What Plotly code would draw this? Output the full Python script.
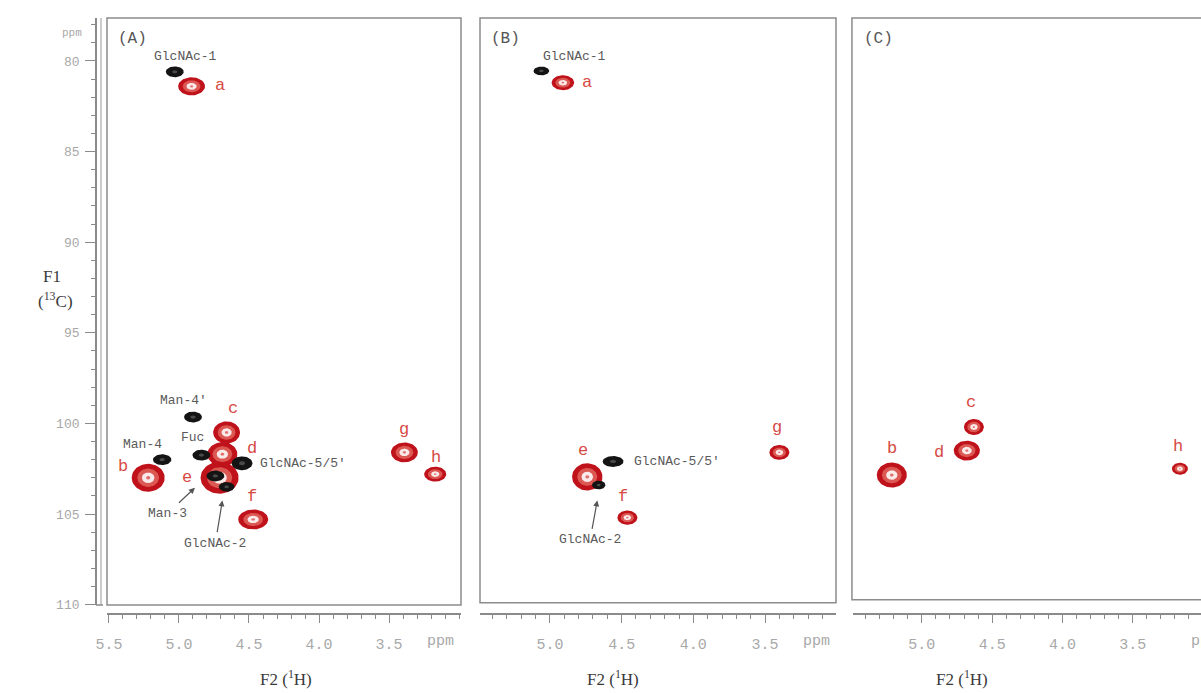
import numpy as np
import plotly.graph_objects as go

W, H = 1201, 693

# ---------------- data (chemical shifts, ppm) ----------------
# Panel A (red = spectrum 1, black = reference spectrum)
a_red_lbl = ["a", "b", "c", "d", "e", "f", "g", "h"]
a_red_h = [4.91, 5.22, 4.66, 4.69, 4.71, 4.47, 3.39, 3.17]
a_red_c = [81.4, 103.0, 100.5, 101.7, 103.0, 105.3, 101.6, 102.8]
a_red_wh = [0.096, 0.118, 0.096, 0.107, 0.136, 0.107, 0.096, 0.079]
a_red_wc = [0.50, 0.77, 0.61, 0.66, 0.88, 0.55, 0.55, 0.41]

a_blk_lbl = ["GlcNAc-1", "Man-4'", "Fuc", "GlcNAc-5/5'", "Man-4", "Man-3", "GlcNAc-2"]
a_blk_h = [5.03, 4.90, 4.84, 4.55, 5.12, 4.74, 4.66]
a_blk_c = [80.6, 99.65, 101.75, 102.2, 102.0, 102.9, 103.5]
a_blk_wh = [0.064, 0.064, 0.064, 0.075, 0.066, 0.064, 0.056]
a_blk_wc = [0.30, 0.30, 0.30, 0.38, 0.30, 0.30, 0.27]

# Panel B
b_red_lbl = ["a", "e", "f", "g"]
b_red_h = [4.91, 4.74, 4.46, 3.40]
b_red_c = [81.2, 102.95, 105.2, 101.6]
b_red_wh = [0.079, 0.106, 0.070, 0.070]
b_red_wc = [0.41, 0.75, 0.39, 0.41]

b_blk_lbl = ["GlcNAc-1", "GlcNAc-5/5'", "GlcNAc-2"]
b_blk_h = [5.06, 4.56, 4.66]
b_blk_c = [80.55, 102.1, 103.4]
b_blk_wh = [0.055, 0.073, 0.047]
b_blk_wc = [0.24, 0.30, 0.24]

# Panel C
c_red_lbl = ["b", "c", "d", "h"]
c_red_h = [5.214, 4.63, 4.68, 3.164]
c_red_c = [102.85, 100.2, 101.5, 102.5]
c_red_wh = [0.107, 0.071, 0.093, 0.057]
c_red_wc = [0.69, 0.44, 0.55, 0.33]

x_ticks_A = [5.5, 5.0, 4.5, 4.0, 3.5]
x_ticks_BC = [5.0, 4.5, 4.0, 3.5]
y_ticks = [80, 85, 90, 95, 100, 105, 110]

# ---------------- helpers ----------------
def px_x(p):
    return p / W

def px_y(p):
    return 1 - p / H

T = np.linspace(0, 2 * np.pi, 60)

def ellipses(hs, cs, whs, wcs, scale):
    xs, ys = [], []
    for h, c, wh, wc in zip(hs, cs, whs, wcs):
        xs += list(h + scale * wh * np.cos(T)) + [None]
        ys += list(c + scale * wc * np.sin(T)) + [None]
    return xs, ys

RED_LAYERS = [(1.0, "#bf121b"), (0.66, "#dc5853"), (0.38, "#fbeaea"), (0.13, "#e07070")]
BLK_LAYERS = [(1.0, "#141414"), (0.3, "#4a4a4a")]

fig = go.Figure()

def add_peaks(xa, hs, cs, whs, wcs, layers, name):
    for s, col in layers:
        xs, ys = ellipses(hs, cs, whs, wcs, s)
        fig.add_trace(go.Scatter(x=xs, y=ys, xaxis=xa, yaxis="y", mode="lines",
                                 fill="toself", fillcolor=col, line=dict(width=0, color=col),
                                 hoverinfo="skip", showlegend=False, name=name))

add_peaks("x", a_red_h, a_red_c, a_red_wh, a_red_wc, RED_LAYERS, "A red")
add_peaks("x", a_blk_h, a_blk_c, a_blk_wh, a_blk_wc, BLK_LAYERS, "A black")
add_peaks("x2", b_red_h, b_red_c, b_red_wh, b_red_wc, RED_LAYERS, "B red")
add_peaks("x2", b_blk_h, b_blk_c, b_blk_wh, b_blk_wc, BLK_LAYERS, "B black")
add_peaks("x3", c_red_h, c_red_c, c_red_wh, c_red_wc, RED_LAYERS, "C red")

# ---------------- axes ----------------
AX_COL = "#8a8a8a"
TICK_FONT = dict(family="Liberation Mono", size=15, color="#a8a8a8")

def xaxis(dom, rng, ticks):
    return dict(domain=dom, range=rng, anchor="free", position=px_y(614),
                showline=True, linecolor=AX_COL, linewidth=1.5,
                tickmode="array", tickvals=ticks, ticktext=[f"{t:.1f}" for t in ticks],
                ticks="outside", ticklen=8, tickcolor=AX_COL, tickwidth=1.4,
                ticklabelstandoff=8, tickfont=TICK_FONT,
                minor=dict(tickmode="linear", tick0=0, dtick=0.1, ticks="outside",
                           ticklen=4, tickcolor=AX_COL, tickwidth=1),
                showgrid=False, zeroline=False, fixedrange=True)

fig.update_layout(
    width=W, height=H, margin=dict(l=0, r=0, t=0, b=0, pad=0, autoexpand=False),
    paper_bgcolor="white", plot_bgcolor="rgba(0,0,0,0)",
    xaxis=xaxis([px_x(107), px_x(461)], [5.514, 2.986], x_ticks_A),
    xaxis2=xaxis([px_x(480), px_x(836)], [5.488, 3.005], x_ticks_BC),
    xaxis3=xaxis([px_x(853), 1.0], [5.49, 3.014], x_ticks_BC),
    yaxis=dict(domain=[px_y(605), px_y(18)], range=[110.02, 77.63],
               anchor="free", position=px_x(96), side="left",
               showline=True, linecolor=AX_COL, linewidth=1.8,
               tickmode="array", tickvals=y_ticks, ticktext=[str(t) for t in y_ticks],
               ticks="outside", ticklen=10, tickcolor=AX_COL, tickwidth=1.3,
               ticklabelstandoff=3, tickfont=dict(family="Liberation Mono", size=13, color="#a8a8a8"),
               minor=dict(tickmode="linear", tick0=0, dtick=1, ticks="outside",
                          ticklen=4, tickcolor=AX_COL, tickwidth=1),
               showgrid=False, zeroline=False, fixedrange=True),
)

# panel frames
FRAME = dict(color="#8c8c8c", width=1.5)
fig.add_shape(type="rect", xref="x domain", yref="y domain", x0=0, x1=1, y0=0, y1=1,
              line=FRAME, layer="below")
fig.add_shape(type="rect", xref="x2 domain", yref="y domain", x0=0, x1=1, y0=0.004, y1=1,
              line=FRAME, layer="below")
fig.add_shape(type="rect", xref="x3 domain", yref="y domain", x0=-0.003, x1=1.05, y0=0.009, y1=1,
              line=FRAME, layer="below")
# second (inner) y-axis rule and bottom hook
fig.add_shape(type="line", xref="paper", yref="paper", x0=px_x(101), x1=px_x(101),
              y0=px_y(605), y1=px_y(18), line=dict(color="#a8a8a8", width=1.2))
fig.add_shape(type="line", xref="paper", yref="paper", x0=px_x(96), x1=px_x(103),
              y0=px_y(605), y1=px_y(605), line=dict(color=AX_COL, width=1.5))

# ---------------- text ----------------
RED_FONT = dict(family="Liberation Mono", size=17, color="#d64a44")
GRAY_FONT = dict(family="Liberation Mono", size=13, color="#5a5a5a")

def ann(xa, x, y, text, font, xanchor="center"):
    fig.add_annotation(xref=xa, yref="y", x=x, y=y, text=text, showarrow=False,
                       font=font, xanchor=xanchor, yanchor="middle")

def arrow_label(xa, text, lx, ly, tx, ty):
    fig.add_annotation(xref=xa, yref="y", axref=xa, ayref="y", x=tx, y=ty, ax=lx, ay=ly,
                       text=text, showarrow=True, arrowhead=2, arrowsize=1, arrowwidth=1.2,
                       arrowcolor="#555", font=GRAY_FONT, standoff=0, startstandoff=2)

# red letter labels (x ppm, y ppm)
a_lbl_pos = {"a": (4.707, 81.38), "b": (5.40, 102.35), "c": (4.614, 99.15), "d": (4.479, 101.36),
             "e": (4.943, 102.96), "f": (4.479, 104.06), "g": (3.393, 100.36), "h": (3.164, 101.9)}
b_lbl_pos = {"a": (4.742, 81.21), "e": (4.77, 101.47), "f": (4.49, 104.06), "g": (3.417, 100.25)}
c_lbl_pos = {"b": (5.214, 101.36), "c": (4.65, 98.87), "d": (4.879, 101.58), "h": (3.179, 101.3)}
for lbl in a_red_lbl:
    ann("x", *a_lbl_pos[lbl], lbl, RED_FONT)
for lbl in b_red_lbl:
    ann("x2", *b_lbl_pos[lbl], lbl, RED_FONT)
for lbl in c_red_lbl:
    ann("x3", *c_lbl_pos[lbl], lbl, RED_FONT)

# gray assignment labels (some with arrows pointing at their cross-peak)
a_name_pos = {"GlcNAc-1": (4.957, 79.78, "center"), "Man-4'": (4.971, 98.71, "center"),
              "Fuc": (4.90, 100.8, "center"), "GlcNAc-5/5'": (4.436, 102.19, "left"),
              "Man-4": (5.257, 101.19, "center")}
a_arrow_pos = {"Man-3": (5.079, 104.95, 4.886, 103.55), "GlcNAc-2": (4.74, 106.6, 4.69, 104.25)}
b_name_pos = {"GlcNAc-1": (4.826, 79.78, "center"), "GlcNAc-5/5'": (4.428, 102.1, "left")}
b_arrow_pos = {"GlcNAc-2": (4.72, 106.43, 4.67, 104.25)}
for lbl in a_blk_lbl:
    if lbl in a_name_pos:
        x, y, anc = a_name_pos[lbl]
        ann("x", x, y, lbl, GRAY_FONT, anc)
    else:
        arrow_label("x", lbl, *a_arrow_pos[lbl])
for lbl in b_blk_lbl:
    if lbl in b_name_pos:
        x, y, anc = b_name_pos[lbl]
        ann("x2", x, y, lbl, GRAY_FONT, anc)
    else:
        arrow_label("x2", lbl, *b_arrow_pos[lbl])

# panel letters
PANEL_FONT = dict(family="Liberation Mono", size=16, color="#555")
for xa, t in [("x", "(A)"), ("x2", "(B)"), ("x3", "(C)")]:
    fig.add_annotation(xref=f"{xa} domain", yref="paper", x=0.025, y=px_y(39), text=t,
                       showarrow=False, font=PANEL_FONT, xanchor="left", yanchor="middle")

# 'ppm' unit labels
UNIT_FONT = dict(family="Liberation Mono", size=15, color="#a8a8a8")
for xa, xv, anc in [("x", 3.13, "center"), ("x2", 3.14, "center"), ("x3", 3.10, "left")]:
    fig.add_annotation(xref=xa, yref="paper", x=xv, y=px_y(641), text="ppm", showarrow=False,
                       font=UNIT_FONT, yanchor="middle", xanchor=anc)
fig.add_annotation(xref="paper", yref="paper", x=px_x(60), y=px_y(33), text="ppm", showarrow=False,
                   font=dict(family="Liberation Mono", size=11, color="#a8a8a8"), yanchor="middle")

# axis titles
TITLE_FONT = dict(family="Liberation Serif", size=17, color="#3a3a3a")
for xp in [258, 613, 990]:
    fig.add_annotation(xref="paper", yref="paper", x=px_x(xp), y=px_y(691),
                       text="F2 (<sup>1</sup>H)", showarrow=False, font=TITLE_FONT,
                       yanchor="bottom")
fig.add_annotation(xref="paper", yref="paper", x=px_x(41), y=px_y(276),
                   text="F1", showarrow=False, font=TITLE_FONT, yanchor="middle")
fig.add_annotation(xref="paper", yref="paper", x=px_x(36), y=px_y(300),
                   text="(<sup>13</sup>C)", showarrow=False, font=TITLE_FONT, yanchor="middle")

fig.write_html("out.html", config={"displayModeBar": False},
               post_script="document.body.style.margin='0';document.body.style.overflow='hidden';")
